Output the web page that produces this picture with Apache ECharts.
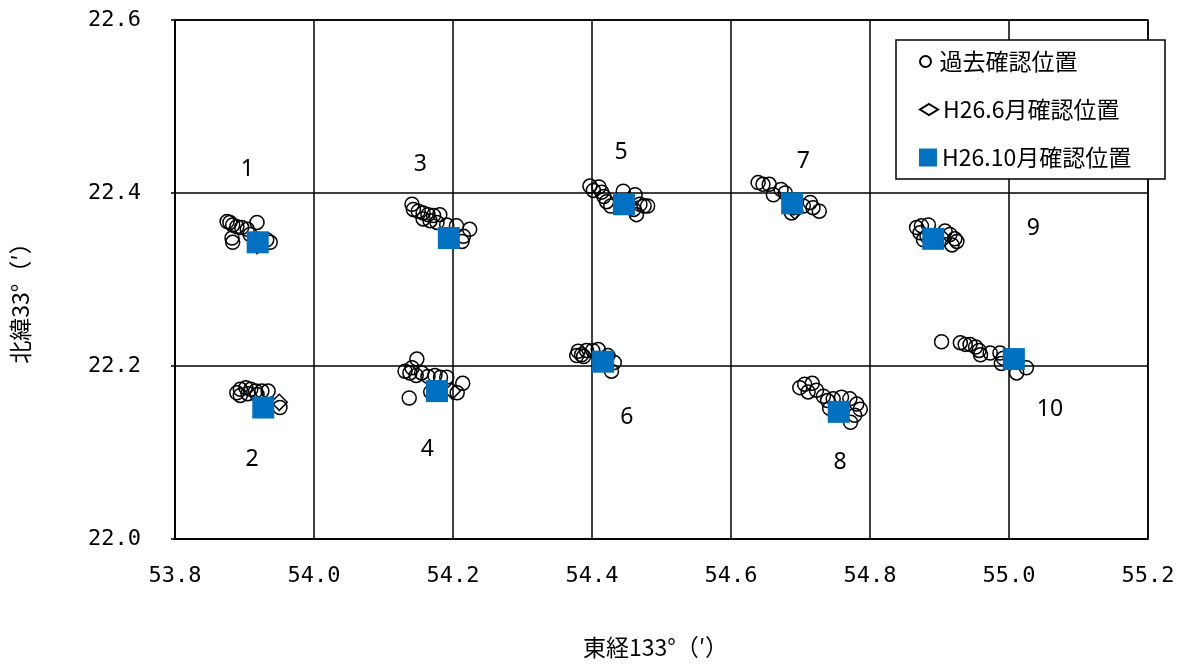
<!DOCTYPE html>
<html>
<head>
<meta charset="utf-8">
<script src="https://cdn.jsdelivr.net/npm/echarts@6/dist/echarts.min.js"></script>
<style>html,body{margin:0;padding:0;background:#fff}#c{width:1178px;height:664px}</style>
</head>
<body>
<div id="c"></div>
<script>
// ---- data ----
const seriesNames = ['過去確認位置', 'H26.6月確認位置', 'H26.10月確認位置'];
const xAxisTitle = '東経133°（′）';
const yAxisTitle = '北緯33°（′）';

// past confirmed positions (10 groups)
const pastX = [
  53.875, 53.879, 53.883, 53.889, 53.896, 53.904, 53.882, 53.883, 53.918, 53.932, 53.937, 53.922, 53.908,
  53.889, 53.894, 53.902, 53.909, 53.916, 53.925, 53.934, 53.894, 53.905, 53.918, 53.951,
  54.141, 54.143, 54.150, 54.157, 54.164, 54.172, 54.181, 54.157, 54.167, 54.177, 54.205, 54.224, 54.215, 54.213, 54.191,
  54.148, 54.141, 54.131, 54.138, 54.147, 54.155, 54.164, 54.174, 54.182, 54.191, 54.214, 54.206, 54.168, 54.137,
  54.397, 54.402, 54.410, 54.414, 54.417, 54.421, 54.427, 54.445, 54.462, 54.469, 54.475, 54.480, 54.464, 54.460,
  54.380, 54.385, 54.392, 54.401, 54.409, 54.378, 54.388, 54.423, 54.432, 54.428,
  54.639, 54.646, 54.655, 54.661, 54.672, 54.678, 54.690, 54.704, 54.714, 54.718, 54.727, 54.687,
  54.699, 54.706, 54.717, 54.711, 54.723, 54.733, 54.739, 54.747, 54.759, 54.771, 54.781, 54.786, 54.778, 54.772, 54.742,
  54.867, 54.874, 54.884, 54.872, 54.882, 54.877, 54.908, 54.915, 54.922, 54.925, 54.918,
  54.903, 54.930, 54.937, 54.944, 54.952, 54.957, 54.959, 54.973, 54.987, 54.992, 54.989, 55.011, 55.025
];
const pastY = [
  22.367, 22.366, 22.363, 22.361, 22.360, 22.358, 22.348, 22.343, 22.366, 22.346, 22.343, 22.342, 22.352,
  22.169, 22.173, 22.175, 22.173, 22.171, 22.171, 22.171, 22.166, 22.168, 22.167, 22.152,
  22.387, 22.381, 22.379, 22.377, 22.375, 22.374, 22.375, 22.370, 22.368, 22.366, 22.362, 22.358, 22.350, 22.344, 22.363,
  22.208, 22.198, 22.194, 22.192, 22.189, 22.192, 22.188, 22.189, 22.187, 22.187, 22.180, 22.169, 22.170, 22.163,
  22.408, 22.403, 22.407, 22.401, 22.396, 22.390, 22.385, 22.402, 22.398, 22.387, 22.385, 22.385, 22.375, 22.381,
  22.217, 22.213, 22.218, 22.218, 22.219, 22.212, 22.211, 22.212, 22.204, 22.194,
  22.412, 22.410, 22.410, 22.398, 22.404, 22.400, 22.383, 22.385, 22.389, 22.383, 22.379, 22.377,
  22.175, 22.179, 22.180, 22.170, 22.172, 22.165, 22.160, 22.162, 22.164, 22.162, 22.156, 22.150, 22.143, 22.135, 22.151,
  22.360, 22.362, 22.363, 22.354, 22.350, 22.346, 22.356, 22.352, 22.347, 22.344, 22.340,
  22.228, 22.227, 22.225, 22.225, 22.222, 22.218, 22.213, 22.215, 22.215, 22.209, 22.203, 22.192, 22.198
];

// H26.6 positions
const junX = [53.918, 53.950, 54.196, 54.199, 54.452, 54.418, 54.692, 54.757, 54.906, 55.009];
const junY = [22.339, 22.158, 22.346, 22.171, 22.387, 22.204, 22.379, 22.146, 22.347, 22.207];

// H26.10 positions
const octX = [53.919, 53.927, 54.194, 54.177, 54.446, 54.416, 54.688, 54.755, 54.891, 55.007];
const octY = [22.343, 22.152, 22.348, 22.171, 22.387, 22.205, 22.388, 22.147, 22.347, 22.208];

// point number labels
const labelText = ['1', '2', '3', '4', '5', '6', '7', '8', '9', '10'];
const labelX = [53.904, 53.911, 54.153, 54.163, 54.442, 54.450, 54.704, 54.757, 55.035, 55.059];
const labelY = [22.427, 22.092, 22.433, 22.104, 22.447, 22.141, 22.436, 22.089, 22.359, 22.150];

// ticks
const xMin = 53.8, xMax = 55.2, xStep = 0.2;
const yMin = 22.0, yMax = 22.6, yStep = 0.2;

// ---- chart ----
const zip = (a, b) => a.map((v, i) => [v, b[i]]);
const tickFont = "'DejaVu Sans Mono', monospace";
const cjkFont = "'Noto Sans CJK JP', 'Noto Sans', sans-serif";

const chart = echarts.init(document.getElementById('c'), null, { renderer: 'canvas' });
const legendCommon = {
  left: 919, padding: 0, itemWidth: 18,
  textStyle: { fontFamily: cjkFont, fontSize: 23, color: '#000' },
  selectedMode: false, z: 20
};
chart.setOption({
  animation: false,
  backgroundColor: '#fff',
  grid: { left: 175, right: 30, top: 20, bottom: 121, show: true, borderColor: '#000', borderWidth: 1.5, backgroundColor: 'transparent' },
  xAxis: {
    type: 'value', min: xMin, max: xMax, interval: xStep,
    name: xAxisTitle, nameLocation: 'middle', nameGap: 97,
    nameTextStyle: { fontFamily: cjkFont, fontSize: 23, color: '#000', padding: [0, 12, 0, 0] },
    axisLine: { show: true, lineStyle: { color: '#000', width: 1.5 } },
    axisTick: { show: false },
    splitLine: { show: true, lineStyle: { color: '#000', width: 1.5 } },
    axisLabel: { margin: 26, fontFamily: tickFont, fontSize: 22, color: '#000', formatter: v => v.toFixed(1) }
  },
  yAxis: {
    type: 'value', min: yMin, max: yMax, interval: yStep,
    name: yAxisTitle, nameLocation: 'middle', nameGap: 143,
    nameTextStyle: { fontFamily: cjkFont, fontSize: 23, color: '#000', padding: [0, 36, 0, 0] },
    axisLine: { show: true, lineStyle: { color: '#000', width: 1.5 } },
    axisTick: { show: true, length: 4, lineStyle: { color: '#000', width: 1.5 } },
    splitLine: { show: true, lineStyle: { color: '#000', width: 1.5 } },
    axisLabel: { margin: 34, fontFamily: tickFont, fontSize: 22, color: '#000', formatter: v => v.toFixed(1) }
  },
  graphic: [{
    type: 'rect', z: 10,
    shape: { x: 896, y: 40, width: 269, height: 139 },
    style: { fill: '#fff', stroke: '#000', lineWidth: 1.5 }
  }],
  legend: [
    Object.assign({}, legendCommon, { top: 50, itemHeight: 11, data: [seriesNames[0]] }),
    Object.assign({}, legendCommon, { top: 98, itemHeight: 11, data: [seriesNames[1]] }),
    Object.assign({}, legendCommon, { top: 146, itemHeight: 18, data: [seriesNames[2]] })
  ],
  series: [
    {
      name: seriesNames[0], type: 'scatter', symbol: 'circle', symbolSize: 14, z: 2,
      itemStyle: { color: 'rgba(255,255,255,0)', borderColor: '#000', borderWidth: 1.5, opacity: 1 },
      data: zip(pastX, pastY)
    },
    {
      name: seriesNames[1], type: 'scatter', symbol: 'diamond', symbolSize: 16, z: 3,
      itemStyle: { color: 'rgba(255,255,255,0)', borderColor: '#000', borderWidth: 1.5, opacity: 1 },
      data: zip(junX, junY)
    },
    {
      name: seriesNames[2], type: 'scatter', symbol: 'rect', symbolSize: 22, z: 4,
      itemStyle: { color: '#0070C0', opacity: 1 },
      data: zip(octX, octY)
    },
    {
      name: 'labels', type: 'scatter', symbolSize: 0, silent: true, z: 5,
      label: { show: true, position: 'inside', fontFamily: "'Noto Sans', sans-serif", fontSize: 23, color: '#000' ,
        formatter: p => labelText[p.dataIndex] },
      itemStyle: { color: 'transparent', opacity: 1 },
      data: zip(labelX, labelY)
    }
  ]
});
</script>
</body>
</html>
